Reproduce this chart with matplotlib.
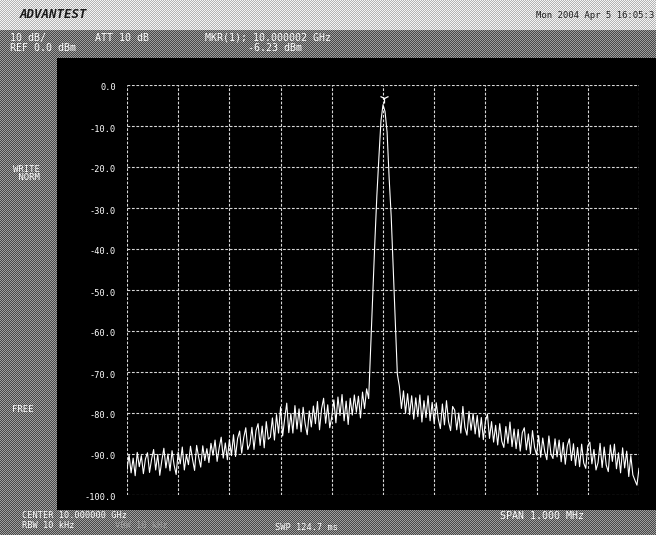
import numpy as np
import matplotlib.pyplot as plt

# sweep: offset from 10.000000 GHz in kHz, level in dBm
offset_khz = np.arange(-500, 501, 4)
level_dbm = [
    -93.8, -90.2, -94.6, -91.0, -95.3, -89.6, -93.1, -90.4, -94.8, -91.2,
    -89.7, -94.5, -91.3, -88.9, -93.9, -90.1, -95.2, -91.6, -88.6, -93.4,
    -90.0, -94.1, -89.2, -92.7, -95.0, -89.5, -92.4, -88.3, -93.9, -90.2,
    -92.6, -88.1, -91.3, -94.0, -87.9, -90.8, -93.2, -88.0, -91.6, -88.7,
    -92.1, -87.4, -90.3, -86.6, -91.8, -88.5, -85.9, -91.0, -87.3, -91.4,
    -86.5, -90.4, -85.3, -90.6, -86.2, -84.4, -89.8, -86.0, -83.6, -88.9,
    -87.6, -83.5, -88.9, -84.3, -82.6, -87.9, -83.2, -88.5, -82.1, -86.4,
    -85.9, -81.2, -86.6, -80.4, -84.9, -78.5, -85.6, -81.3, -77.6, -84.8,
    -80.1, -84.9, -78.2, -83.9, -79.0, -84.6, -78.6, -82.7, -85.3, -79.5,
    -83.4, -78.3, -82.6, -77.2, -84.1, -79.0, -76.4, -82.5, -78.0, -83.6,
    -80.9, -76.8, -82.4, -76.1, -80.6, -75.5, -81.9, -77.1, -82.8, -76.4,
    -80.5, -75.6, -79.8, -75.9, -81.2, -74.9, -78.9, -74.1, -76.5, -63.7,
    -51.0, -38.5, -27.0, -17.6, -8.8, -4.8, -6.5, -11.5, -22.7, -32.0,
    -44.8, -57.4, -70.5, -73.5, -78.9, -74.6, -80.0, -75.3, -80.4, -75.8,
    -81.5, -76.3, -80.9, -75.6, -82.2, -77.0, -81.1, -75.8, -81.9, -77.4,
    -82.6, -77.5, -81.4, -83.8, -77.8, -82.9, -77.0, -82.1, -84.3, -78.4,
    -79.3, -84.1, -80.0, -84.9, -78.4, -83.5, -85.4, -79.6, -84.2, -80.1,
    -85.1, -80.6, -85.9, -81.1, -86.5, -82.0, -80.3, -86.2, -82.1, -87.1,
    -83.0, -87.8, -82.6, -86.9, -88.4, -83.3, -87.4, -82.2, -88.2, -83.9,
    -88.7, -84.0, -89.3, -84.8, -83.6, -89.0, -85.1, -89.9, -84.3, -88.4,
    -90.2, -85.5, -90.8, -86.1, -89.5, -91.4, -85.6, -90.0, -91.1, -86.3,
    -90.7, -86.6, -91.9, -87.2, -92.5, -88.0, -86.3, -91.6, -87.5, -92.8,
    -88.4, -93.1, -87.6, -92.2, -93.5, -88.0, -87.1, -92.4, -88.9, -93.9,
    -92.1, -87.4, -93.3, -88.3, -92.7, -94.3, -87.8, -91.8, -87.6, -93.6,
    -89.7, -94.6, -88.5, -93.4, -89.3, -95.5, -90.4, -95.1, -96.4, -97.6,
    -93.5,
]
marker_khz = 2
marker_dbm = -6.23

y_ticks = [0, -10, -20, -30, -40, -50, -60, -70, -80, -90, -100]
y_labels = ["0.0", "-10.0", "-20.0", "-30.0", "-40.0", "-50.0",
            "-60.0", "-70.0", "-80.0", "-90.0", "-100.0"]
x_ticks = [-500, -400, -300, -200, -100, 0, 100, 200, 300, 400, 500]

W, H = 656, 535


def fx(px):
    return px / W


def fy(py):
    return 1 - py / H


fig = plt.figure(figsize=(W / 100, H / 100), dpi=100)

# dithered screen background (printer halftone look), placed pixel for pixel
yy, xx = np.indices((H, W))
dots = ((xx + yy) % 2 == 0)
bg = np.where(dots, 0.62, 0.28)
light = np.where(dots, 0.96, 0.70)
bg[:30, :] = light[:30, :]
bg[58:510, 57:] = 0.0
fig.figimage(bg, cmap="gray", vmin=0, vmax=1, origin="upper", zorder=0)

mono = "DejaVu Sans Mono"


def label(px, py, s, size=7.2, color="white", ha="left", **kw):
    fig.text(fx(px), fy(py), s, color=color, fontsize=size, family=mono,
             ha=ha, va="center", zorder=3, **kw)


label(20, 15, "ADVANTEST", size=9, color="#1a1a1a", weight="bold", style="italic")
label(654, 15, "Mon 2004 Apr 5 16:05:3", size=6.5, color="#202020", ha="right")
label(10, 38, "10 dB/")
label(10, 48, "REF 0.0 dBm")
label(95, 38, "ATT 10 dB")
label(205, 38, "MKR(1); 10.000002 GHz")
label(248, 48, "-6.23 dBm")
label(13, 169, "WRITE", size=6.5)
label(13, 178, " NORM", size=6.5)
label(12, 410, "FREE", size=6.5)
label(22, 516, "CENTER 10.000000 GHz", size=6.2)
label(22, 526, "RBW 10 kHz", size=6.2)
label(115, 526, "VBW 10 kHz", size=6.2, color="#a0a0a0")
label(275, 527, "SWP 124.7 ms", size=6.2)
label(500, 516, "SPAN 1.000 MHz")

ax = fig.add_axes([fx(127), fy(495), fx(639) - fx(127), fy(85) - fy(495)], zorder=2)
ax.set_facecolor("black")
ax.set_xlim(-500, 500)
ax.set_ylim(-100, 0)

grid_style = dict(color="#d8d8d8", linewidth=0.8, linestyle=(0, (2.5, 1.5)))
for t in x_ticks:
    ax.axvline(t, **grid_style)
for t in y_ticks:
    ax.axhline(t, **grid_style)

ax.plot(offset_khz, level_dbm, color="white", linewidth=0.8)
ax.plot(marker_khz, marker_dbm + 3, marker="1", color="white", markersize=7,
        markeredgewidth=0.9)

for s in ax.spines.values():
    s.set_visible(False)
ax.set_xticks([])
ax.set_yticks([])

for t, s in zip(y_ticks, y_labels):
    label(116, 85 + (-t) * 4.1 + 3, s, size=6.2, ha="right")

fig.savefig("out.png", dpi=100)
